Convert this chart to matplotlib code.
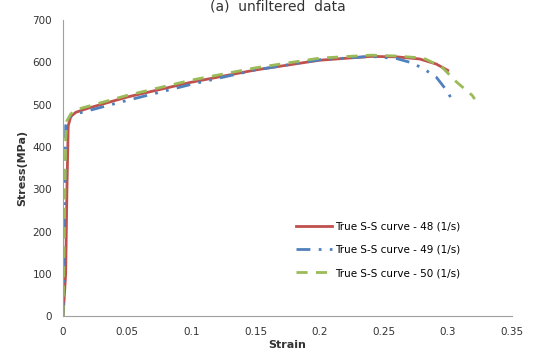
import matplotlib.pyplot as plt

strain_48 = [0, 0.002, 0.003, 0.004, 0.006, 0.01, 0.02, 0.05, 0.1, 0.15, 0.2, 0.24, 0.26, 0.278, 0.291, 0.300]
stress_48 = [0, 100, 300, 450, 472, 482, 492, 518, 553, 582, 605, 614, 613, 608, 596, 581]

strain_49 = [0, 0.001, 0.002, 0.003, 0.006, 0.01, 0.05, 0.1, 0.15, 0.2, 0.24, 0.26, 0.273, 0.284, 0.291, 0.299, 0.305]
stress_49 = [0, 200, 450, 462, 472, 478, 510, 548, 582, 606, 614, 609, 598, 579, 565, 534, 503]

strain_50 = [0, 0.001, 0.002, 0.003, 0.006, 0.01, 0.05, 0.1, 0.15, 0.2, 0.24, 0.26, 0.281, 0.295, 0.307, 0.319, 0.321]
stress_50 = [0, 200, 420, 462, 478, 488, 522, 558, 587, 610, 617, 615, 610, 590, 553, 522, 513]

labels = ['True S-S curve - 48 (1/s)', 'True S-S curve - 49 (1/s)', 'True S-S curve - 50 (1/s)']
xticks = [0, 0.05, 0.1, 0.15, 0.2, 0.25, 0.3, 0.35]
yticks = [0, 100, 200, 300, 400, 500, 600, 700]

fig = plt.figure(figsize=(5.44, 3.58), dpi=100)
ax = fig.add_axes([0.116, 0.117, 0.825, 0.827])

ax.plot(strain_48, stress_48, color='#C0504D', lw=2, ls='-', label=labels[0])
ax.plot(strain_49, stress_49, color='#4F81BD', lw=2, ls=(0, (5, 3, 1, 3, 1, 3)), label=labels[1])
ax.plot(strain_50, stress_50, color='#9BBB59', lw=2, ls=(0, (4, 3)), label=labels[2])

ax.set_xlim(0, 0.35)
ax.set_ylim(0, 700)
ax.set_xticks(xticks)
ax.set_xticklabels(['0', '0.05', '0.1', '0.15', '0.2', '0.25', '0.3', '0.35'])
ax.set_yticks(yticks)
ax.tick_params(length=0, labelsize=7.5, colors='#333333', pad=8)
for s in ['top', 'right']:
    ax.spines[s].set_visible(False)
for s in ['left', 'bottom']:
    ax.spines[s].set_color('#A0A0A0')

ax.set_xlabel('Strain', fontsize=8, fontweight='bold', color='#333333', labelpad=2)
ax.set_ylabel('Stress(MPa)', fontsize=8, fontweight='bold', color='#333333', labelpad=4)

ax.legend(loc='upper left', bbox_to_anchor=(0.52, 0.318), frameon=False, borderaxespad=0, borderpad=0,
          fontsize=7.5, handlelength=3.4, handletextpad=0.3, labelspacing=1.25)

fig.text(0.51, 1 - 11 / 358, '(a)  unfiltered  data', ha='center', va='baseline', fontsize=10, color='#333333')

fig.savefig('out.png', dpi=100)
